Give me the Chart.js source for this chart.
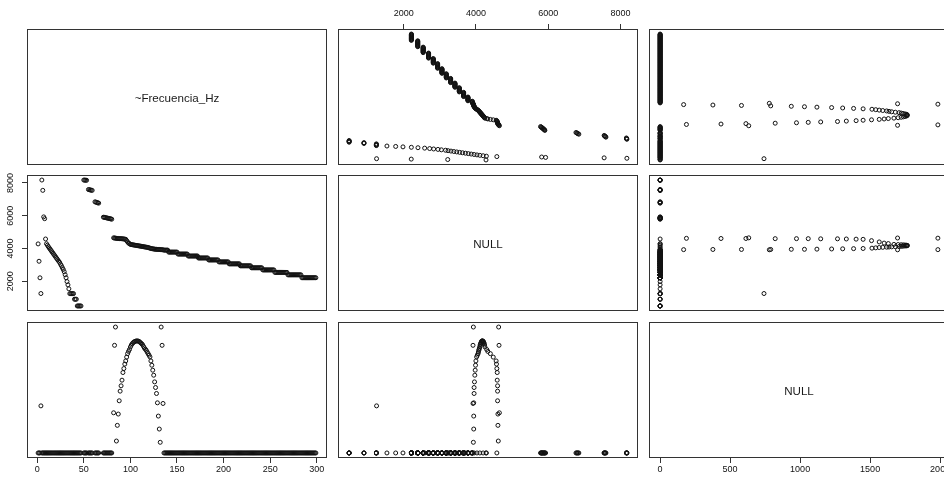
<!DOCTYPE html>
<html>
<head>
<meta charset="utf-8">
<script src="https://cdn.jsdelivr.net/npm/chart.js@4.4.1/dist/chart.umd.min.js"></script>
<style>
html,body{margin:0;padding:0;background:#fff;}
body{width:944px;height:477px;position:relative;overflow:hidden;}
canvas{position:absolute;}
.diag{position:absolute;display:flex;align-items:center;justify-content:center;
  font-family:"Liberation Sans",Arial,Helvetica,sans-serif;font-size:11.6px;color:#1a1a1a;z-index:5;}
</style>
</head>
<body>
<script>
// ---------------- DATA ----------------
// variable 1: running index (x axis of column 1, 0..300)
const varIdx = [
  1,2,3,4,5,6,7,8,9,10,11,12,13,14,15,16,17,18,19,20,
  21,22,23,24,25,26,27,28,29,30,31,32,33,34,35,36,37,38,39,40,
  41,42,43,44,45,46,47,
  50,51,52,53,
  55,56,57,58,59,
  62,63,64,65,66,
  71,72,73,74,75,76,77,78,79,80,
  82,83,84,85,86,87,88,89,90,91,
  92,93,94,95,96,97,98,99,100,101,
  102,103,104,105,106,107,108,109,110,111,
  112,113,114,115,116,117,118,119,120,121,
  122,123,124,125,126,127,128,129,130,131,
  132,133,134,135,136,137,138,139,140,141,
  142,143,144,145,146,147,148,149,150,151,
  152,153,154,155,156,157,158,159,160,161,
  162,163,164,165,166,167,168,169,170,171,
  172,173,174,175,176,177,178,179,180,181,
  182,183,184,185,186,187,188,189,190,191,
  192,193,194,195,196,197,198,199,200,201,
  202,203,204,205,206,207,208,209,210,211,
  212,213,214,215,216,217,218,219,220,221,
  222,223,224,225,226,227,228,229,230,231,
  232,233,234,235,236,237,238,239,240,241,
  242,243,244,245,246,247,248,249,250,251,
  252,253,254,255,256,257,258,259,260,261,
  262,263,264,265,266,267,268,269,270,271,
  272,273,274,275,276,277,278,279,280,281,
  282,283,284,285,286,287,288,289,290,291,
  292,293,294,295,296,297,298,299
];

// variable 2: Frecuencia_Hz
const freqHz = [
  // idx 1-9
  4280,3220,2210,1250,8180,7550,5930,5820,4580,
  // idx 10-34
  4290,4200,4110,4030,3950,3870,3790,3710,3630,3550,
  3470,3390,3310,3230,3160,3044,2950,2830,2720,2581,
  2396,2213,1981,1779,1537,
  // idx 35-47
  1244,1244,1244,1244,1244,901,901,901,490,490,490,490,490,
  // idx 50-53
  8180,8175,8170,8165,
  // idx 55-59
  7600,7590,7575,7560,7550,
  // idx 62-66
  6850,6830,6810,6790,6770,
  // idx 71-80
  5910,5900,5890,5875,5860,5850,5835,5820,5805,5790,
  // idx 82-135
  4650,4640,4630,4620,4610,4610,4600,4600,4600,4590,
  4590,4580,4570,4560,4480,4400,4330,4300,4250,4240,
  4230,4220,4210,4200,4190,4180,4170,4160,4150,4140,
  4130,4120,4110,4100,4090,4080,4070,4060,4040,4020,
  4000,3990,3980,3970,3960,3950,3950,3940,3940,3940,
  3930,3930,3920,3920,
  // idx 136-140
  3900,3900,3900,3900,3900,
  // idx 141-150
  3780,3780,3780,3780,3780,3780,3780,3780,3780,3780,
  // idx 151-161
  3660,3660,3660,3660,3660,3660,3660,3660,3660,3660,3660,
  // idx 162-172
  3540,3540,3540,3540,3540,3540,3540,3540,3540,3540,3540,
  // idx 173-183
  3420,3420,3420,3420,3420,3420,3420,3420,3420,3420,3420,
  // idx 184-194
  3300,3300,3300,3300,3300,3300,3300,3300,3300,3300,3300,
  // idx 195-205
  3180,3180,3180,3180,3180,3180,3180,3180,3180,3180,3180,
  // idx 206-217
  3060,3060,3060,3060,3060,3060,3060,3060,3060,3060,3060,3060,
  // idx 218-229
  2940,2940,2940,2940,2940,2940,2940,2940,2940,2940,2940,2940,
  // idx 230-241
  2820,2820,2820,2820,2820,2820,2820,2820,2820,2820,2820,2820,
  // idx 242-254
  2690,2690,2690,2690,2690,2690,2690,2690,2690,2690,2690,2690,2690,
  // idx 255-268
  2540,2540,2540,2540,2540,2540,2540,2540,2540,2540,2540,2540,2540,2540,
  // idx 269-283
  2390,2390,2390,2390,2390,2390,2390,2390,2390,2390,2390,2390,2390,2390,2390,
  // idx 284-299
  2213,2213,2213,2213,2213,2213,2213,2213,2213,2213,2213,2213,2213,2213,2213,2213
];

// variable 3 (0..2000 axis of column 3)
const var3 = [
  // idx 1-47
  0,0,0,742,0,0,0,0,0,0,
  0,0,0,0,0,0,0,0,0,0,
  0,0,0,0,0,0,0,0,0,0,
  0,0,0,0,0,0,0,0,0,0,
  0,0,0,0,0,0,0,
  // idx 50-80 (24 points)
  0,0,0,0, 0,0,0,0,0, 0,0,0,0,0, 0,0,0,0,0,0,0,0,0,0,
  // idx 82-135
  633,1696,1984,188,435,613,822,974,1058,1147,
  1267,1330,1400,1450,1510,1565,1600,1630,1670,1700,
  1722,1738,1750,1759,1764,1765,1764,1760,1749,1735,
  1722,1707,1680,1654,1635,1618,1590,1565,1540,1513,
  1450,1382,1304,1225,1120,1031,937,790,581,377,
  168,1984,1696,780,
  // idx 136-299 (164 points)
  0,0,0,0,0,0,0,0,0,0,0,0,0,0,0,0,0,0,0,0,
  0,0,0,0,0,0,0,0,0,0,0,0,0,0,0,0,0,0,0,0,
  0,0,0,0,0,0,0,0,0,0,0,0,0,0,0,0,0,0,0,0,
  0,0,0,0,0,0,0,0,0,0,0,0,0,0,0,0,0,0,0,0,
  0,0,0,0,0,0,0,0,0,0,0,0,0,0,0,0,0,0,0,0,
  0,0,0,0,0,0,0,0,0,0,0,0,0,0,0,0,0,0,0,0,
  0,0,0,0,0,0,0,0,0,0,0,0,0,0,0,0,0,0,0,0,
  0,0,0,0,0,0,0,0,0,0,0,0,0,0,0,0,0,0,0,0,
  0,0,0,0
];

// tick labels
const ticksIdx  = [0,50,100,150,200,250,300];
const ticksFreq = [2000,4000,6000,8000];
const ticksVar3 = [0,500,1000,1500,2000];

// diagonal panel texts
const diagLabels = ["~Frecuencia_Hz","NULL","NULL"];

// ---------------- DRAWING ----------------
const FONT = '"Liberation Sans", Arial, Helvetica, sans-serif';
const vars = [varIdx, freqHz, var3];
const tickSets = [ticksIdx, ticksFreq, ticksVar3];
function rRange(a){ const mn=Math.min(...a), mx=Math.max(...a), r=mx-mn; return [mn-0.04*r, mx+0.04*r]; }
const ranges = vars.map(rRange);

const colLeft = [27,338,649], rowTop = [29,175,322], W = 300, H = 136, M = 30;

const boxPlugin = {
  id: 'rbox',
  afterDraw(chart){
    const {ctx, chartArea:a} = chart;
    ctx.save();
    ctx.strokeStyle = '#333';
    ctx.lineWidth = 1;
    ctx.strokeRect(Math.round(a.left)+0.5, Math.round(a.top)+0.5, Math.round(a.width)-1, Math.round(a.height)-1);
    ctx.restore();
  }
};

function axisCfg(varI, pos, isX){
  const show = !!pos;
  const padMap = {top:5.3, bottom:1.6, left:1};
  return {
    type: 'linear',
    position: pos || (isX ? 'bottom' : 'left'),
    display: show,
    min: ranges[varI][0],
    max: ranges[varI][1],
    afterBuildTicks(s){ s.ticks = tickSets[varI].map(v => ({value:v})); },
    afterFit(s){ if (show){ if (isX) s.height = M; else s.width = M; } },
    grid: {display:true, drawOnChartArea:false, drawTicks:true, tickLength:5, tickColor:'#333', lineWidth:1},
    border: {display:false},
    ticks: {
      display: true, autoSkip: false, color: '#111',
      font: {family: FONT, size: 9},
      padding: show ? padMap[pos] : 0,
      minRotation: isX ? 0 : 90, maxRotation: isX ? 0 : 90,
      crossAlign: isX ? 'near' : 'center',
      callback: v => String(v)
    }
  };
}

for (let i = 0; i < 3; i++){
  for (let j = 0; j < 3; j++){
    const xPos = (i === 0 && j === 1) ? 'top' : ((i === 2 && j !== 1) ? 'bottom' : null);
    const yPos = (i === 1 && j === 0) ? 'left' : null;
    const cv = document.createElement('canvas');
    cv.width = W + 2*M; cv.height = H + 2*M;
    cv.style.left = (colLeft[j] - M) + 'px';
    cv.style.top = (rowTop[i] - M) + 'px';
    document.body.appendChild(cv);

    const datasets = [];
    if (i !== j){
      const xs = vars[j], ys = vars[i];
      datasets.push({
        data: xs.map((v, k) => ({x: v, y: ys[k]})),
        pointRadius: 2,
        pointBorderWidth: 1,
        pointBorderColor: '#111',
        pointBackgroundColor: 'rgba(0,0,0,0)',
        pointHoverRadius: 2
      });
    }
    new Chart(cv, {
      type: 'scatter',
      data: {datasets},
      options: {
        responsive: false, animation: false, events: [],
        devicePixelRatio: 1,
        layout: {padding: {left: yPos ? 0 : M, right: M, top: xPos === 'top' ? 0 : M, bottom: xPos === 'bottom' ? 0 : M}},
        plugins: {legend: {display:false}, tooltip: {enabled:false}, title: {display:false}},
        scales: {x: axisCfg(j, xPos, true), y: axisCfg(i, yPos, false)}
      },
      plugins: [boxPlugin]
    });

    if (i === j){
      const d = document.createElement('div');
      d.className = 'diag';
      d.style.left = colLeft[j] + 'px';
      d.style.top = rowTop[i] + 'px';
      d.style.width = W + 'px';
      d.style.height = H + 'px';
      d.textContent = diagLabels[i];
      document.body.appendChild(d);
    }
  }
}
</script>
</body>
</html>
